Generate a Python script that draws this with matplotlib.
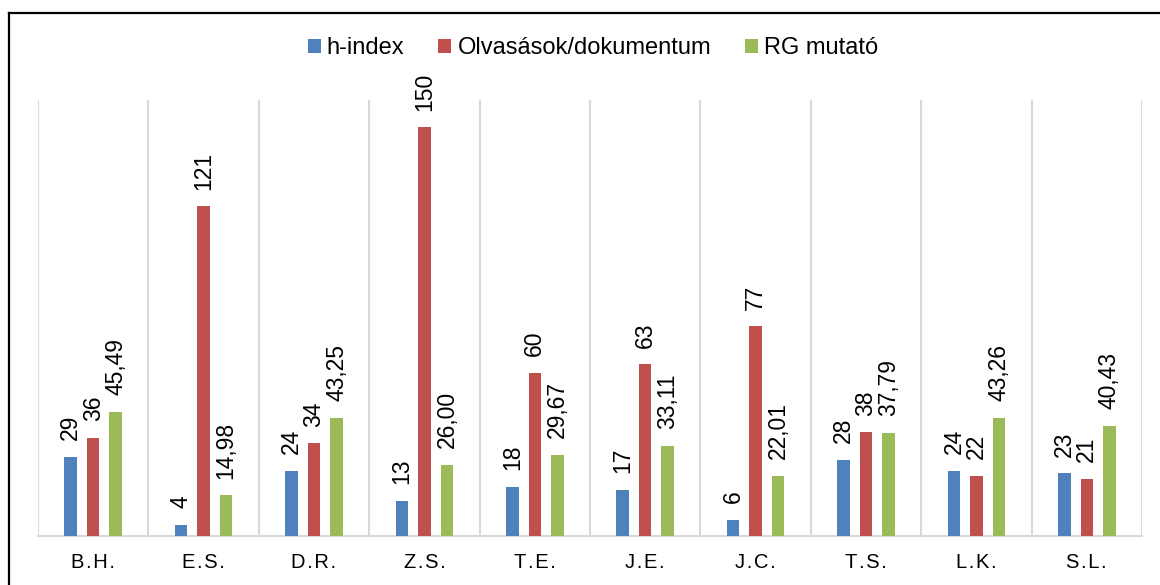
import matplotlib.pyplot as plt
import numpy as np
from matplotlib.lines import Line2D

plt.rcParams['font.family'] = ['Liberation Sans', 'DejaVu Sans']

categories = ['B.H.', 'E.S.', 'D.R.', 'Z.S.', 'T.E.', 'J.E.', 'J.C.', 'T.S.', 'L.K.', 'S.L.']
h_index = [29, 4, 24, 13, 18, 17, 6, 28, 24, 23]
olvasasok = [36, 121, 34, 150, 60, 63, 77, 38, 22, 21]
rg_mutato = [45.49, 14.98, 43.25, 26.00, 29.67, 33.11, 22.01, 37.79, 43.26, 40.43]
series_names = ['h-index', 'Olvasások/dokumentum', 'RG mutató']
colors = ['#4F81BD', '#C0504D', '#9BBB59']

fig = plt.figure(figsize=(11.6, 5.85), dpi=100)
ax = fig.add_axes([38/1160, 1-536/585, (1142-38)/1160, (536-100)/585])

x = np.arange(len(categories))
width = 0.113
step = 0.204
all_series = [h_index, olvasasok, rg_mutato]
for i, (vals, name, c) in enumerate(zip(all_series, series_names, colors)):
    pos = x + (i-1)*step
    ax.bar(pos, vals, width, color=c, label=name, zorder=3)
    for p, v in zip(pos, vals):
        if isinstance(v, float):
            txt = ('%.2f' % v).replace('.', ',')
        else:
            txt = str(v)
        ax.annotate(txt, (p, v), xytext=(0, 12), textcoords='offset points',
                    rotation=90, ha='center', va='bottom', fontsize=16.5)

ax.set_xlim(-0.5, len(categories)-0.5)
ax.set_ylim(0, 160)
for b in np.arange(-0.5, len(categories), 1):
    ax.axvline(b, color='#D9D9D9', lw=1.5, zorder=1)
for s in ['top', 'right', 'left']:
    ax.spines[s].set_visible(False)
ax.spines['bottom'].set_color('#D9D9D9')
ax.spines['bottom'].set_linewidth(1.5)
ax.set_yticks([])
ax.set_xticks(x)
# letter-spaced labels like the original
ax.set_xticklabels(['\u200a'.join(c) for c in categories], fontsize=14.5)
ax.tick_params(axis='x', length=0, pad=12)

leg = fig.legend(loc='center', bbox_to_anchor=(593/1160, 1-48/585), ncol=3,
                 frameon=False, fontsize=17, handlelength=0.55, handleheight=0.55,
                 handletextpad=0.25, columnspacing=1.45)

# outer frame (only top and left visible in the crop)
fig.add_artist(Line2D([8.5/1160, 1.0], [1-12.5/585, 1-12.5/585], color='black', lw=1.6))
fig.add_artist(Line2D([8.5/1160, 8.5/1160], [0, 1-12.5/585], color='black', lw=1.6))

plt.savefig('out.png', dpi=100)
